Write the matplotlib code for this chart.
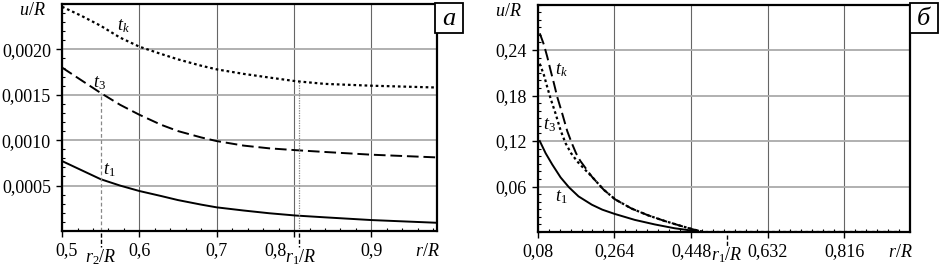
import matplotlib
matplotlib.use('Agg')
from matplotlib import pyplot as plt
from matplotlib.ticker import AutoMinorLocator
from matplotlib.patches import Rectangle
from matplotlib.transforms import ScaledTranslation

plt.rcParams['font.family'] = 'Liberation Serif'
plt.rcParams['mathtext.fontset'] = 'custom'
plt.rcParams['mathtext.rm'] = 'Liberation Serif'
plt.rcParams['mathtext.it'] = 'Liberation Serif:italic'

# panel a
r_a = [0.5, 0.525, 0.55, 0.575, 0.6, 0.628, 0.65, 0.68, 0.7, 0.735, 0.768, 0.802, 0.84, 0.9, 0.985]
tk_a = [0.00247, 0.00237, 0.00226, 0.00213, 0.00203, 0.00195, 0.00189, 0.00182, 0.00178,
        0.00173, 0.00169, 0.00165, 0.00162, 0.00160, 0.00158]
t3_a = [0.00180, 0.00166, 0.00152, 0.00139, 0.00128, 0.00117, 0.00110, 0.00103, 0.00099,
        0.00094, 0.00091, 0.00089, 0.00087, 0.00084, 0.00081]
t1_a = [0.00077, 0.00067, 0.00057, 0.00050, 0.00044, 0.000385, 0.00034, 0.00029, 0.00026,
        0.000225, 0.000195, 0.00017, 0.00015, 0.00012, 0.00009]
r2_a, r1_a = 0.55, 0.806
xt_a = [0.5, 0.6, 0.7, 0.8, 0.9]
xl_a = ['0,5', '0,6', '0,7', '0,8', '0,9']
yt_a = [0.0005, 0.0010, 0.0015, 0.0020]
yl_a = ['0,0005', '0,0010', '0,0015', '0,0020']

# panel b
r_k = [0.085, 0.095, 0.103, 0.111, 0.119, 0.127, 0.139, 0.151, 0.162, 0.172, 0.182, 0.210, 0.238,
       0.266, 0.305, 0.345, 0.385, 0.424, 0.456, 0.48, 0.95]
tk_b = [0.262, 0.247, 0.231, 0.213, 0.196, 0.178, 0.156, 0.133, 0.117, 0.104, 0.094, 0.073, 0.056,
        0.043, 0.031, 0.022, 0.0145, 0.008, 0.003, 0.0, 0.0]
r_3 = [0.085, 0.095, 0.103, 0.111, 0.123, 0.135, 0.147, 0.160, 0.175, 0.194, 0.210, 0.238,
       0.266, 0.305, 0.345, 0.385, 0.424, 0.456, 0.48, 0.95]
t3_b = [0.222, 0.207, 0.191, 0.176, 0.156, 0.134, 0.117, 0.104, 0.093, 0.082, 0.073, 0.056,
        0.043, 0.031, 0.022, 0.0145, 0.008, 0.003, 0.0, 0.0]
r_1 = [0.085, 0.099, 0.115, 0.135, 0.155, 0.178, 0.210, 0.235, 0.264, 0.313, 0.361, 0.408, 0.448, 0.47, 0.95]
t1_b = [0.120, 0.104, 0.089, 0.072, 0.059, 0.047, 0.036, 0.0295, 0.024, 0.016, 0.010, 0.005, 0.002, 0.0, 0.0]
r1_b = 0.534
xt_b = [0.08, 0.264, 0.448, 0.632, 0.816]
xl_b = ['0,08', '0,264', '0,448', '0,632', '0,816']
yt_b = [0.06, 0.12, 0.18, 0.24]
yl_b = ['0,06', '0,12', '0,18', '0,24']

fs = 13
dashed = (0, (6, 2.5))
dotted = (0, (1.2, 1.3))

fig = plt.figure(figsize=(9.4, 2.67), dpi=100)
ax1 = fig.add_axes([0.066, 0.135, 0.399, 0.85])
ax2 = fig.add_axes([0.572, 0.131, 0.396, 0.852])


def style(ax, xt, xl, yt, yl, nx, ny):
    ax.set_xticks(xt, xl)
    ax.set_yticks(yt, yl)
    ax.xaxis.set_minor_locator(AutoMinorLocator(nx))
    ax.yaxis.set_minor_locator(AutoMinorLocator(ny))
    ax.tick_params(which='major', direction='out', length=4, width=1, labelsize=fs, pad=4)
    ax.tick_params(which='minor', direction='in', length=2.5, width=0.8)
    ax.xaxis.grid(True, color='#666666', lw=0.8)
    ax.yaxis.grid(True, color='#aaaaaa', lw=1.3)
    ax.set_axisbelow(True)
    for s in ax.spines.values():
        s.set_linewidth(1.6)
    ax.text(-0.08, 0.97, '$u/R$', transform=ax.transAxes, fontsize=fs, ha='center', va='center')
    ax.text(0.975, -0.09, '$r/R$', transform=ax.transAxes, fontsize=fs, ha='center', va='center')


def shift_label(ax, text, dx):
    for lbl in ax.get_xticklabels():
        if lbl.get_text() == text:
            lbl.set_transform(lbl.get_transform() + ScaledTranslation(dx / 100, 0, fig.dpi_scale_trans))


# panel a
ax1.plot(r_a, tk_a, color='k', lw=1.6, ls=dotted)
ax1.plot(r_a, t3_a, color='k', lw=1.4, ls=dashed)
ax1.plot(r_a, t1_a, color='k', lw=1.4)
ax1.set_xlim(0.5, 0.985)
ax1.set_ylim(0, 0.0025)
style(ax1, xt_a, xl_a, yt_a, yl_a, 5, 5)
shift_label(ax1, '0,5', 5)
shift_label(ax1, '0,8', -19)
ax1.plot([r2_a, r2_a], [0, 0.00152], color='#888888', lw=0.9, ls=(0, (3, 2)))
ax1.plot([r1_a, r1_a], [0, 0.00164], color='#888888', lw=0.9, ls=(0, (1, 1)))
for xv in [r2_a, r1_a]:
    ax1.plot([xv, xv], [-0.00002, -0.00018], color='k', lw=1, ls=(0, (3, 1.5)), clip_on=False)
ax1.text(r2_a, -0.00035, '$r_2/R$', fontsize=fs, ha='center', va='baseline')
ax1.text(r1_a + 0.003, -0.00035, '$r_1/R$', fontsize=fs, ha='center', va='baseline')
ax1.text(0.579, 0.00226, '$t_k$', fontsize=fs, ha='center', va='center')
ax1.text(0.549, 0.00163, '$t_3$', fontsize=fs, ha='center', va='center')
ax1.text(0.561, 0.00067, '$t_1$', fontsize=fs, ha='center', va='center')

# panel b
ax2.plot(r_k, tk_b, color='k', lw=1.4, ls=dashed)
ax2.plot(r_3, t3_b, color='k', lw=1.6, ls=dotted)
ax2.plot(r_1, t1_b, color='k', lw=1.4)
ax2.set_xlim(0.084, 0.973)
ax2.set_ylim(0, 0.30)
style(ax2, xt_b, xl_b, yt_b, yl_b, 7, 6)
ax2.plot([r1_b, r1_b], [-0.004, -0.02], color='k', lw=1, ls=(0, (3, 1.5)), clip_on=False)
ax2.text(r1_b, -0.037, '$r_1/R$', fontsize=fs, ha='center', va='baseline')
ax2.text(0.137, 0.214, '$t_k$', fontsize=fs, ha='center', va='center')
ax2.text(0.109, 0.141, '$t_3$', fontsize=fs, ha='center', va='center')
ax2.text(0.137, 0.046, '$t_1$', fontsize=fs, ha='center', va='center')

# panel letters
for x0, letter in [(0.4628, 'a'), (0.9681, 'б')]:
    fig.patches.append(Rectangle((x0, 0.876), 0.0295, 0.112, transform=fig.transFigure,
                                 facecolor='white', edgecolor='k', lw=1.3, zorder=5))
    fig.text(x0 + 0.0148, 0.928, letter, fontsize=19, style='italic', ha='center', va='center', zorder=6)

fig.savefig('out.png', dpi=100)
